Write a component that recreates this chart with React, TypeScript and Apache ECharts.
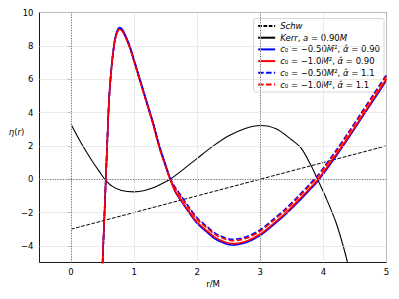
import React, { useEffect, useRef } from "react";
import * as echarts from "echarts";

const xTicks = [0, 1, 2, 3, 4, 5];
const yTicks = [-4, -2, 0, 2, 4, 6, 8, 10];
const refX = [0, 3];
const refY = [0];

const schwR = [0, 5];
const schwEta = [-3, 2];

const kerrR = [0, 0.14, 0.25, 0.35, 0.45, 0.53, 0.65, 0.8, 1.0, 1.15, 1.3, 1.45, 1.57, 1.75, 2.0, 2.25, 2.5, 2.75, 3.0, 3.25, 3.5, 3.65, 3.8, 3.9, 4.05, 4.2, 4.32, 4.45];
const kerrEta = [3.29, 2.3, 1.6, 1.0, 0.45, 0.02, -0.42, -0.68, -0.76, -0.7, -0.52, -0.25, 0, 0.5, 1.25, 1.98, 2.6, 3.03, 3.22, 3.02, 2.35, 1.85, 0.85, 0.05, -1.2, -2.6, -4.1, -6.0];

const cR = [0.495, 0.5, 0.52, 0.54, 0.56, 0.58, 0.6, 0.62, 0.65, 0.69, 0.73, 0.77, 0.81, 0.86, 0.93, 1.0, 1.1, 1.2, 1.3, 1.4, 1.5, 1.57, 1.65, 1.75, 1.85, 2.0, 2.15, 2.3, 2.45, 2.55, 2.65, 2.8, 3.0, 3.2, 3.4, 3.6, 3.8, 3.9, 4.0, 4.2, 4.4, 4.6, 4.8, 5.0];
// c0 = -0.50, alpha = 0.90 (blue solid)
const etaBlueSolid = [-6, -5, -3.05, -1.1, 0.85, 2.8, 4.6, 5.75, 7.05, 8.28, 8.88, 9.1, 9.0, 8.65, 8.0, 7.15, 5.9, 4.65, 3.4, 2.0, 0.85, 0.05, -0.75, -1.33, -1.9, -2.66, -3.17, -3.62, -3.87, -3.95, -3.92, -3.77, -3.37, -2.77, -2.12, -1.37, -0.57, -0.17, 0.33, 1.38, 2.48, 3.63, 4.78, 5.93];
// c0 = -1.0, alpha = 0.90 (red solid)
const etaRedSolid = [-6, -5, -3.05, -1.1, 0.85, 2.8, 4.6, 5.75, 7.0, 8.2, 8.8, 9.0, 8.9, 8.55, 7.9, 7.05, 5.8, 4.55, 3.3, 1.9, 0.75, -0.02, -0.72, -1.29, -1.84, -2.59, -3.09, -3.54, -3.79, -3.87, -3.84, -3.69, -3.29, -2.69, -2.04, -1.29, -0.49, -0.09, 0.41, 1.46, 2.56, 3.71, 4.86, 6.01];
// c0 = -0.50, alpha = 1.1 (blue dashed)
const etaBlueDashed = [-6, -5, -3.05, -1.1, 0.85, 2.8, 4.6, 5.75, 7.06, 8.26, 8.86, 9.06, 8.96, 8.61, 7.96, 7.11, 5.86, 4.61, 3.36, 1.96, 0.81, 0.05, -0.48, -1.03, -1.58, -2.33, -2.83, -3.28, -3.53, -3.61, -3.58, -3.43, -3.03, -2.43, -1.78, -1.03, -0.23, 0.17, 0.67, 1.72, 2.82, 3.97, 5.12, 6.27];
// c0 = -1.0, alpha = 1.1 (red dashed)
const etaRedDashed = [-6, -5, -3.05, -1.1, 0.85, 2.8, 4.6, 5.75, 7.0, 8.2, 8.8, 9.0, 8.9, 8.55, 7.9, 7.05, 5.8, 4.55, 3.3, 1.9, 0.75, 0.02, -0.56, -1.11, -1.66, -2.41, -2.91, -3.36, -3.61, -3.69, -3.66, -3.51, -3.11, -2.51, -1.86, -1.11, -0.31, 0.09, 0.59, 1.64, 2.74, 3.89, 5.04, 6.19];

const FONT = "DejaVu Sans";
const LF = 8.5;

const legendLabels: Record<string, string> = {
  Schw: "{i|Schw}",
  Kerr: "{i|Kerr}{n|, }{i|a}{n| = 0.90}{i|M}",
  c1: "{i|c}{n|₀ = −0.50}{i|M}{n|², }{i|α̂}{n| = 0.90}",
  c2: "{i|c}{n|₀ = −1.0}{i|M}{n|², }{i|α̂}{n| = 0.90}",
  c3: "{i|c}{n|₀ = −0.50}{i|M}{n|², }{i|α̂}{n| = 1.1}",
  c4: "{i|c}{n|₀ = −1.0}{i|M}{n|², }{i|α̂}{n| = 1.1}",
};

function zip(xs: number[], ys: number[]) {
  return xs.map((x, i) => [x, ys[i]]);
}

export default function App() {
  const ref = useRef<HTMLDivElement>(null);
  useEffect(() => {
    document.body.style.margin = "0";
    const chart = echarts.init(ref.current!, null, { renderer: "svg" });
    const lineSeries = (name: string, xs: number[], ys: number[], color: string, width: number, type: any, z: number) => ({
      name,
      type: "line",
      data: zip(xs, ys),
      symbol: "none",
      showSymbol: false,
      smooth: 0.3,
      z,
      lineStyle: { color, width, type },
      itemStyle: { color },
    });
    const option: any = {
      animation: false,
      grid: { left: 39.5, right: 12.5, top: 12.5, bottom: 36.5, show: true, borderColor: "#000", borderWidth: 0.9, backgroundColor: "transparent" },
      xAxis: {
        type: "value",
        min: -0.5,
        max: 5,
        splitLine: { show: false },
        axisLine: { show: false },
        axisTick: { show: true, customValues: xTicks, length: 3.5, lineStyle: { color: "#000", width: 0.8 } },
        axisLabel: { customValues: xTicks, fontSize: 8.5, fontFamily: FONT, color: "#000", margin: 5 },
      },
      yAxis: {
        type: "value",
        min: -5,
        max: 10,
        splitLine: { show: false },
        axisLine: { show: false },
        axisTick: { show: true, customValues: yTicks, length: 3.5, lineStyle: { color: "#000", width: 0.8 } },
        axisLabel: {
          customValues: yTicks,
          fontSize: 8.5,
          fontFamily: FONT,
          color: "#000",
          margin: 6,
          formatter: (v: number) => String(v).replace("-", "−"),
        },
      },
      legend: {
        data: ["Schw", "Kerr", "c1", "c2", "c3", "c4"],
        orient: "vertical",
        right: 15,
        top: 18.5,
        align: "left",
        itemWidth: 17,
        itemHeight: 10,
        itemGap: 2.7,
        padding: [3, 4, 3, 3.5],
        backgroundColor: "rgba(255,255,255,0.8)",
        borderColor: "#cccccc",
        borderWidth: 0.8,
        borderRadius: 2,
        itemStyle: { opacity: 0, borderWidth: 0 },
        formatter: (name: string) => legendLabels[name],
        textStyle: {
          fontSize: LF,
          fontFamily: FONT,
          color: "#000",
          rich: {
            i: { fontStyle: "italic", fontSize: LF, fontFamily: FONT, lineHeight: 10, color: "#000" },
            n: { fontSize: LF, fontFamily: FONT, lineHeight: 10, color: "#000" },
          },
        },
      },
      graphic: [
        {
          type: "text",
          x: 213,
          y: 283.5,
          style: { text: "r/M", fontSize: 8.5, fontFamily: FONT, fill: "#000", align: "center", verticalAlign: "middle" },
        },
        {
          type: "text",
          x: 16.5,
          y: 132,
          style: {
            text: "{i|η}{n|(}{i|r}{n|)}",
            align: "center",
            verticalAlign: "middle",
            rich: {
              i: { fontStyle: "italic", fontSize: 8.5, fontFamily: FONT, fill: "#000" },
              n: { fontSize: 8.5, fontFamily: FONT, fill: "#000" },
            },
          },
        },
      ],
      series: [
        {
          name: "gridlines",
          type: "line",
          data: [[0, -3]],
          symbol: "none",
          lineStyle: { width: 0 },
          z: 0,
          silent: true,
          markLine: {
            silent: true,
            symbol: ["none", "none"],
            label: { show: false },
            lineStyle: { color: "#e4e4e4", width: 0.8, type: "solid" },
            emphasis: { disabled: true },
            data: [...xTicks.map((v) => ({ xAxis: v })), ...yTicks.map((v) => ({ yAxis: v }))],
          },
        },
        {
          name: "reflines",
          type: "line",
          data: [[0, -3]],
          symbol: "none",
          lineStyle: { width: 0 },
          z: 1,
          silent: true,
          markLine: {
            silent: true,
            symbol: ["none", "none"],
            label: { show: false },
            lineStyle: { color: "#555", width: 0.9, type: [1, 1.6] },
            emphasis: { disabled: true },
            data: [...refX.map((v) => ({ xAxis: v })), ...refY.map((v) => ({ yAxis: v }))],
          },
        },
        lineSeries("Schw", schwR, schwEta, "#000", 1, [3.7, 1.6], 3),
        lineSeries("Kerr", kerrR, kerrEta, "#000", 1.1, "solid", 3),
        lineSeries("c1", cR, etaBlueSolid, "#0000ff", 1.6, "solid", 4),
        lineSeries("c2", cR, etaRedSolid, "#ff0000", 1.6, "solid", 5),
        lineSeries("c3", cR, etaBlueDashed, "#0000ff", 1.6, [5.5, 2.4], 6),
        lineSeries("c4", cR, etaRedDashed, "#ff0000", 1.6, [5.5, 2.4], 7),
      ],
    };
    chart.setOption(option);
    return () => chart.dispose();
  }, []);
  return <div ref={ref} style={{ width: 399, height: 299 }} />;
}
